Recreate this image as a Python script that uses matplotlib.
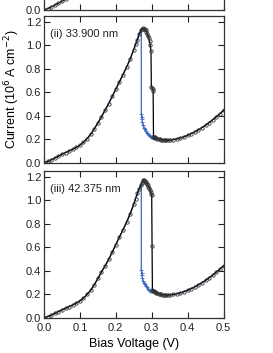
import matplotlib.pyplot as plt

plt.rcParams['font.family'] = ['Liberation Sans', 'DejaVu Sans']

# ---- data (V, 10^6 A cm^-2) ----
# top panel (i): only the bottom edge is visible
v_top = [0.00, 0.01, 0.02, 0.03, 0.04, 0.05, 0.06, 0.07, 0.08]
i_top = [0.000, 0.012, 0.026, 0.041, 0.057, 0.074, 0.092, 0.111, 0.131]

# panel (ii) 33.900 nm
v_up2 = [0.00, 0.01, 0.02, 0.03, 0.04, 0.05, 0.06, 0.07, 0.08, 0.09,
         0.10, 0.11, 0.12, 0.13, 0.14, 0.15, 0.16, 0.17, 0.18, 0.19,
         0.20, 0.21, 0.22, 0.23, 0.24, 0.25, 0.255, 0.26, 0.265, 0.27]
i_up2 = [0.000, 0.013, 0.027, 0.042, 0.058, 0.074, 0.089, 0.103, 0.117, 0.133,
         0.152, 0.176, 0.208, 0.244, 0.290, 0.340, 0.393, 0.448, 0.505, 0.566,
         0.628, 0.690, 0.752, 0.815, 0.885, 0.965, 1.008, 1.050, 1.095, 1.128]
v_fwd2 = [0.273, 0.275, 0.278, 0.280, 0.283, 0.285, 0.288, 0.290, 0.292,
          0.294, 0.296, 0.298, 0.299, 0.301, 0.303, 0.304, 0.305]
i_fwd2 = [1.143, 1.146, 1.143, 1.138, 1.128, 1.118, 1.100, 1.082, 1.060,
          1.035, 1.000, 0.950, 0.650, 0.640, 0.630, 0.615, 0.224]
v_bwd2 = [0.271, 0.271, 0.272, 0.273, 0.274, 0.276, 0.278, 0.280, 0.283,
          0.286, 0.289, 0.292, 0.295, 0.298, 0.301, 0.304]
i_bwd2 = [1.135, 0.420, 0.395, 0.370, 0.345, 0.320, 0.300, 0.285, 0.268,
          0.254, 0.243, 0.235, 0.228, 0.222, 0.218, 0.216]
v_val2 = [0.306, 0.308, 0.31, 0.313, 0.316, 0.32, 0.323, 0.326, 0.33, 0.333,
          0.336, 0.34, 0.345, 0.35, 0.36, 0.37, 0.38, 0.39, 0.40, 0.41,
          0.42, 0.43, 0.44, 0.45, 0.46, 0.47, 0.48, 0.49, 0.50]
i_val2 = [0.220, 0.217, 0.214, 0.210, 0.207, 0.204, 0.201, 0.199, 0.197, 0.196,
          0.195, 0.194, 0.194, 0.195, 0.199, 0.205, 0.213, 0.223, 0.236, 0.250,
          0.265, 0.282, 0.301, 0.322, 0.344, 0.368, 0.393, 0.420, 0.448]

# panel (iii) 42.375 nm
v_up3 = [0.00, 0.01, 0.02, 0.03, 0.04, 0.05, 0.06, 0.07, 0.08, 0.09,
         0.10, 0.11, 0.12, 0.13, 0.14, 0.15, 0.16, 0.17, 0.18, 0.19,
         0.20, 0.21, 0.22, 0.23, 0.24, 0.25, 0.255, 0.26, 0.265, 0.27]
i_up3 = [0.000, 0.012, 0.025, 0.039, 0.054, 0.069, 0.083, 0.097, 0.111, 0.127,
         0.145, 0.169, 0.200, 0.236, 0.283, 0.336, 0.392, 0.442, 0.498, 0.560,
         0.624, 0.688, 0.750, 0.814, 0.886, 0.968, 1.015, 1.060, 1.098, 1.130]
v_fwd3 = [0.273, 0.275, 0.277, 0.279, 0.281, 0.283, 0.285, 0.287, 0.289,
          0.291, 0.293, 0.295, 0.297, 0.299, 0.300, 0.301, 0.302]
i_fwd3 = [1.150, 1.162, 1.170, 1.170, 1.166, 1.160, 1.152, 1.142, 1.130,
          1.118, 1.105, 1.090, 1.072, 1.055, 1.048, 0.615, 0.236]
v_bwd3 = [0.271, 0.271, 0.272, 0.273, 0.274, 0.276, 0.278, 0.280, 0.283,
          0.286, 0.289, 0.292, 0.295, 0.298, 0.301]
i_bwd3 = [1.140, 0.410, 0.385, 0.362, 0.340, 0.318, 0.300, 0.286, 0.272,
          0.260, 0.250, 0.241, 0.233, 0.228, 0.226]
v_val3 = [0.304, 0.306, 0.308, 0.31, 0.313, 0.316, 0.32, 0.323, 0.326, 0.33,
          0.333, 0.336, 0.34, 0.345, 0.35, 0.36, 0.37, 0.38, 0.39, 0.40,
          0.41, 0.42, 0.43, 0.44, 0.45, 0.46, 0.47, 0.48, 0.49, 0.50]
i_val3 = [0.232, 0.228, 0.224, 0.220, 0.215, 0.211, 0.207, 0.204, 0.201, 0.199,
          0.197, 0.196, 0.195, 0.195, 0.196, 0.200, 0.206, 0.214, 0.224, 0.236,
          0.250, 0.265, 0.282, 0.300, 0.320, 0.342, 0.365, 0.390, 0.416, 0.444]

panels = [
    ('(ii) 33.900 nm', v_up2, i_up2, v_fwd2, i_fwd2, v_bwd2, i_bwd2, v_val2, i_val2),
    ('(iii) 42.375 nm', v_up3, i_up3, v_fwd3, i_fwd3, v_bwd3, i_bwd3, v_val3, i_val3),
]

BLUE = '#3a68c2'
W, H = 273, 353
yt = [0.0, 0.2, 0.4, 0.6, 0.8, 1.0, 1.2]
xt = [0.0, 0.1, 0.2, 0.3, 0.4, 0.5]


def style_axes(ax, show_x, ylabels=None):
    ax.set_xlim(0, 0.5)
    ax.set_ylim(0, 1.25)
    ax.set_xticks(xt)
    ax.set_yticks(yt)
    ax.set_yticklabels(ylabels if ylabels else ['%.1f' % t for t in yt])
    ax.set_xticklabels(['%.1f' % t for t in xt] if show_x else [])
    ax.tick_params(direction='in', top=True, right=True, length=4, width=0.8,
                   labelsize=8, colors='#222222')
    ax.tick_params(axis='y', pad=2)
    ax.tick_params(axis='x', pad=3.5)
    for sp in ax.spines.values():
        sp.set_linewidth(0.9)
        sp.set_color('#333333')


fig = plt.figure(figsize=(W / 100, H / 100), dpi=100)
left = 44 / W
width = 179.5 / W

# top panel, mostly cut off by the figure edge
ax0 = fig.add_axes([left, (H - 10) / H, width, 147 / H])
ax0.plot(v_top, i_top, color='black', lw=0.9, marker='o', ms=2.4,
         mfc='none', mec='#333333', mew=0.6)
style_axes(ax0, False, ['0.0'] + [''] * 6)

bottoms = [(H - 163) / H, (H - 318) / H]
axes = []
for k, (lab, vu, iu, vf, jf, vb, jb, vv, iv) in enumerate(panels):
    ax = fig.add_axes([left, bottoms[k], width, 147 / H])
    axes.append(ax)
    # backward sweep (blue) drawn under the forward sweep; only the
    # hysteresis branch carries visible markers
    vb_all = list(reversed(vv)) + list(reversed(vb)) + list(reversed(vu))
    ib_all = list(reversed(iv)) + list(reversed(jb)) + list(reversed(iu))
    n0 = len(vv)
    ax.plot(vb_all, ib_all, color=BLUE, lw=0.9, marker='+', ms=3, mew=0.6,
            markevery=list(range(n0, n0 + len(vb) - 1)))
    ax.plot(vu + vf + vv, iu + jf + iv, color='black', lw=0.9, marker='o',
            ms=2.4, mfc='none', mec='#333333', mew=0.6)
    ax.text(0.033, 0.88, lab, transform=ax.transAxes, fontsize=8,
            ha='left', va='center', color='#222222')
    style_axes(ax, k == 1)

axes[0].set_ylabel('Current (10$^6$ A cm$^{-2}$)', fontsize=9, labelpad=3)
axes[1].set_xlabel('Bias Voltage (V)', fontsize=9, labelpad=4)

plt.savefig('out.png', dpi=100)
